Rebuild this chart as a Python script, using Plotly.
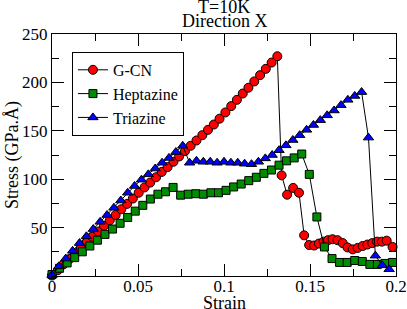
import plotly.graph_objects as go

# ---------------- data ----------------
gcn_strain = [0, 0.0034, 0.0067, 0.0101, 0.0134, 0.0168, 0.0202, 0.0235, 0.0269, 0.0302,
              0.0336, 0.0370, 0.0403, 0.0437, 0.0470, 0.0504, 0.0538, 0.0571, 0.0605, 0.0638,
              0.0672, 0.0706, 0.0739, 0.0773, 0.0806, 0.0840, 0.0874, 0.0907, 0.0941, 0.0974,
              0.1008, 0.1042, 0.1075, 0.1109, 0.1142, 0.1176, 0.1210, 0.1243, 0.1277, 0.1310,
              0.1335, 0.1367, 0.1402, 0.1436, 0.1466, 0.1495, 0.1524, 0.1552, 0.1579, 0.1605,
              0.1631, 0.1660, 0.1690, 0.1718, 0.1748, 0.1777, 0.1806, 0.1834, 0.1862, 0.1890,
              0.1918, 0.1946, 0.1980]
gcn_stress = [0.5, 6, 12, 17.5, 23.5, 29, 35, 40.5, 46, 52,
              57.5, 63, 69, 74.5, 80, 86, 91.5, 96.5, 102, 107.5,
              112.5, 118, 123.5, 129, 134.5, 140, 145.5, 151, 156.5, 162.5,
              169, 175.5, 182, 188.5, 194.5, 201, 207.5, 214, 220.5, 227,
              104, 84, 91, 86, 42, 32, 31.5, 33.5, 35.5, 37,
              38, 37, 34, 29.5, 27.5, 29, 31, 32.5, 34, 35.5,
              35.5, 36.5, 30]

hep_strain = [0, 0.0044, 0.0088, 0.0132, 0.0176, 0.0220, 0.0264, 0.0308, 0.0352, 0.0396,
              0.0440, 0.0484, 0.0528, 0.0572, 0.0616, 0.0660, 0.0704, 0.0748, 0.0792, 0.0836,
              0.0880, 0.0924, 0.0968, 0.1012, 0.1056, 0.1100, 0.1144, 0.1188, 0.1232, 0.1276,
              0.1320, 0.1364, 0.1408, 0.1452, 0.1496, 0.1540, 0.1584, 0.1628, 0.1672, 0.1716,
              0.1760, 0.1804, 0.1848, 0.1892, 0.1936, 0.1980]
hep_stress = [1.5, 8, 13.5, 19, 25, 31, 37, 43, 48.5, 54.5,
              60.5, 67, 73, 79.5, 84.5, 87, 91.5, 83.5, 84.5, 85,
              84.5, 86, 86, 88.5, 92, 95, 98.5, 102, 106, 109.5,
              114.5, 119, 122, 126, 105, 61, 30, 18, 14, 14,
              16, 15, 12, 12, 13, 14]

tri_strain = [0, 0.004, 0.008, 0.012, 0.016, 0.020, 0.024, 0.028, 0.032, 0.036,
              0.040, 0.044, 0.048, 0.052, 0.056, 0.060, 0.064, 0.068, 0.072, 0.076,
              0.080, 0.084, 0.088, 0.092, 0.096, 0.100, 0.104, 0.108, 0.112, 0.116,
              0.120, 0.124, 0.128, 0.132, 0.136, 0.140, 0.144, 0.148, 0.152, 0.156,
              0.160, 0.164, 0.168, 0.172, 0.176, 0.180, 0.184, 0.188, 0.192, 0.196]
tri_stress = [1, 10, 18, 26, 34, 41, 48.5, 56, 63, 70.5,
              78, 86, 93, 99.5, 105, 111, 117, 122, 128, 134.5,
              117, 119, 118, 118, 117, 118, 117, 117, 116, 115.5,
              118, 121.5, 125, 130, 135, 140.5, 145.5, 151, 156, 161,
              166, 171, 176.5, 182, 186, 190, 143, 21, 11, 7]

series_names = ["G-CN", "Heptazine", "Triazine"]
x_tick_vals = [0, 0.05, 0.1, 0.15, 0.2]
x_tick_text = ["0", "0.05", "0.1", "0.15", "0.2"]
y_tick_vals = [50, 100, 150, 200, 250]
y_tick_text = ["50", "100", "150", "200", "250"]

FONT = "Liberation Serif, Times New Roman, serif"

fig = go.Figure()
specs = [
    (gcn_strain, gcn_stress, series_names[0], "circle", "#ff0000", 9),
    (hep_strain, hep_stress, series_names[1], "square", "#008b00", 8),
    (tri_strain, tri_stress, series_names[2], "triangle-up", "#0000ff", 9),
]
for xs, ys, name, sym, col, sz in specs:
    fig.add_trace(go.Scatter(
        x=xs, y=ys, name=name, mode="lines+markers",
        line=dict(color="black", width=1),
        marker=dict(symbol=sym, color=col, size=sz, line=dict(color="black", width=1)),
        cliponaxis=False,
    ))

axis_common = dict(
    showline=True, linecolor="black", linewidth=1, mirror="allticks",
    ticks="inside", ticklen=12, tickwidth=1, tickcolor="black",
    showgrid=False, zeroline=False, automargin=False,
    tickfont=dict(family=FONT, size=17, color="black"),
)

fig.update_xaxes(
    range=[0, 0.2], tickvals=x_tick_vals, ticktext=x_tick_text,
    ticklabelstandoff=-5,
    minor=dict(ticks="inside", ticklen=7, dtick=0.025, tickcolor="black", tickwidth=1, showgrid=False),
    **axis_common,
)
fig.update_yaxes(
    range=[0, 250], tickvals=y_tick_vals, ticktext=y_tick_text,
    minor=dict(ticks="inside", ticklen=7, dtick=25, tickcolor="black", tickwidth=1, showgrid=False),
    **axis_common,
)

def note(text, x, y, xanchor, yanchor, xshift=0, yshift=0, angle=0):
    fig.add_annotation(text=text, x=x, y=y, xref="paper", yref="paper",
                       xanchor=xanchor, yanchor=yanchor, xshift=xshift, yshift=yshift,
                       textangle=angle, showarrow=False,
                       font=dict(family=FONT, size=18, color="black"))

note("T=10K", 0.5, 1, "center", "middle", yshift=27)
note("Direction X", 0.5, 1, "center", "middle", yshift=13)
note("Strain", 0.5, 0, "center", "middle", yshift=-27)
note("Stress (GPa.Å)", 0, 0.5, "center", "middle", xshift=-40, angle=-90)

fig.update_layout(
    width=407, height=309,
    margin=dict(l=52, r=11, t=34, b=33),
    paper_bgcolor="white", plot_bgcolor="white",
    font=dict(family=FONT, color="black"),
    showlegend=True,
    legend=dict(x=0.058, y=0.926, xanchor="left", yanchor="top",
                bgcolor="white", bordercolor="black", borderwidth=1,
                font=dict(family=FONT, size=16, color="black"),
                itemwidth=30, tracegroupgap=0),
)

fig.write_html("out.html", config={"displayModeBar": False},
               post_script="document.body.style.margin='0';")
